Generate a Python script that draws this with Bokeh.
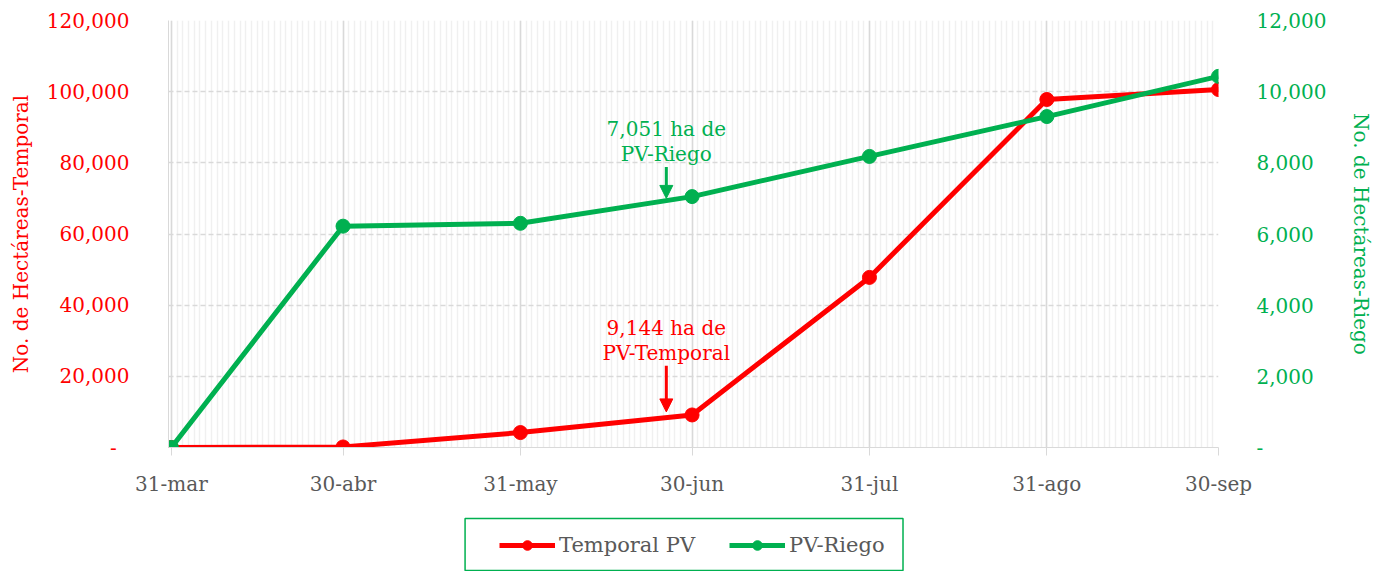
import pandas as pd
from bokeh.plotting import figure
from bokeh.layouts import column
from bokeh.models import (Range1d, LinearAxis, FixedTicker, NumeralTickFormatter, Legend,
                          LegendItem, Arrow, NormalHead, BoxAnnotation)
from bokeh.core.properties import value
from bokeh.embed import file_html
from bokeh.resources import INLINE

# ---------------- data ----------------
dates = ["2024-03-31", "2024-04-30", "2024-05-31", "2024-06-30", "2024-07-31", "2024-08-31", "2024-09-30"]
date_labels = ["31-mar", "30-abr", "31-may", "30-jun", "31-jul", "31-ago", "30-sep"]
temporal = [0, 150, 4200, 9144, 47800, 97800, 100600]
riego = [0, 6220, 6300, 7051, 8180, 9300, 10430]
left_ticks = [0, 20000, 40000, 60000, 80000, 100000, 120000]
right_ticks = [0, 2000, 4000, 6000, 8000, 10000, 12000]
series_names = ["Temporal PV", "PV-Riego"]

RED = "#ff0000"
GREEN = "#00b050"
GRAY_TXT = "#595959"
GRID = "#d9d9d9"
FONT = "DejaVu Serif"

ms = [int(t.value // 10**6) for t in pd.to_datetime(dates)]
day = 86400000
minor = list(range(ms[0], ms[-1] + 1, day))

FRAME_L, FRAME_W = 168, 1050

p = figure(frame_width=FRAME_W, frame_height=427, output_backend="svg",
           toolbar_location=None,
           x_range=Range1d(ms[0] - day * 0.5, ms[-1]),
           y_range=Range1d(0, 120000),
           min_border_left=FRAME_L, min_border_right=146, min_border_top=20, min_border_bottom=60)
p.extra_y_ranges = {"riego": Range1d(0, 12000)}
p.outline_line_color = None
p.background_fill_color = "white"

# x axis
xa = p.xaxis[0]
xa.ticker = FixedTicker(ticks=ms, minor_ticks=minor)
xa.major_label_overrides = {m: l for m, l in zip(ms, date_labels)}
xa.axis_line_color = GRID
xa.major_tick_line_color = GRID
xa.major_tick_out = 8
xa.major_tick_in = 0
xa.minor_tick_line_color = None
xa.major_label_text_color = GRAY_TXT
xa.major_label_text_font = FONT
xa.major_label_text_font_size = "20px"
xa.major_label_standoff = 16

# left y axis
ya = p.yaxis[0]
ya.ticker = FixedTicker(ticks=left_ticks)
ya.formatter = NumeralTickFormatter(format="0,0")
ya.major_label_overrides = {0: "-\u2007"}
ya.axis_line_color = GRID
ya.major_tick_line_color = None
ya.minor_tick_line_color = None
ya.major_label_text_color = RED
ya.major_label_text_font = FONT
ya.major_label_text_font_size = "20px"
ya.major_label_standoff = 33
ya.axis_label = "No. de Hectáreas-Temporal"
ya.axis_label_text_color = RED
ya.axis_label_text_font = FONT
ya.axis_label_text_font_size = "20px"
ya.axis_label_text_font_style = "normal"
ya.axis_label_standoff = 11

# right y axis
ra = LinearAxis(y_range_name="riego", ticker=FixedTicker(ticks=right_ticks),
                formatter=NumeralTickFormatter(format="0,0"))
ra.major_label_overrides = {0: "-"}
ra.axis_line_color = None
ra.major_tick_line_color = None
ra.minor_tick_line_color = None
ra.major_label_text_color = GREEN
ra.major_label_text_font = FONT
ra.major_label_text_font_size = "20px"
ra.major_label_standoff = 32
ra.axis_label = "No. de Hectáreas-Riego"
ra.axis_label_text_color = GREEN
ra.axis_label_text_font = FONT
ra.axis_label_text_font_size = "20px"
ra.axis_label_text_font_style = "normal"
ra.axis_label_standoff = 20
p.add_layout(ra, "right")

# grids
p.xgrid.grid_line_color = GRID
p.xgrid.grid_line_width = 1.5
p.xgrid.minor_grid_line_color = "#f0f0f0"
p.xgrid.minor_grid_line_width = 1.5
p.ygrid.ticker = FixedTicker(ticks=left_ticks)
p.ygrid.grid_line_color = GRID
p.ygrid.grid_line_dash = "5 3"
p.ygrid.grid_line_width = 1.5

# series
p.line(ms, temporal, line_color=RED, line_width=5)
p.scatter(ms, temporal, size=14, fill_color=RED, line_color=RED)
p.line(ms, riego, line_color=GREEN, line_width=5, y_range_name="riego")
p.scatter(ms, riego, size=14, fill_color=GREEN, line_color=GREEN, y_range_name="riego")

# annotations
ann_x = ms[3] - int(day * 4.5)
p.text(x=[ann_x], y=[7917], text=[f"{riego[3]:,} ha de\nPV-Riego"], text_align="center",
       text_baseline="bottom", text_font=value(FONT), text_font_size="20px",
       text_color=GREEN, y_range_name="riego", text_line_height=1.03)
p.add_layout(Arrow(end=NormalHead(size=13, fill_color=GREEN, line_color=GREEN),
                   x_start=ann_x, y_start=7880, x_end=ann_x, y_end=7000,
                   line_color=GREEN, line_width=3, y_range_name="riego"))
p.text(x=[ann_x], y=[23150], text=[f"{temporal[3]:,} ha de\nPV-Temporal"], text_align="center",
       text_baseline="bottom", text_font=value(FONT), text_font_size="20px",
       text_color=RED, text_line_height=1.03)
p.add_layout(Arrow(end=NormalHead(size=13, fill_color=RED, line_color=RED),
                   x_start=ann_x, y_start=23000, x_end=ann_x, y_end=10000,
                   line_color=RED, line_width=3))

# ---------------- legend strip (frame aligned with main frame) ----------------
LH = 64
q = figure(width=1364, height=LH, output_backend="svg", toolbar_location=None,
           x_range=Range1d(FRAME_L, FRAME_L + FRAME_W), y_range=Range1d(0, LH),
           x_axis_location=None, y_axis_location=None,
           min_border=0, min_border_top=0, min_border_bottom=0)
q.grid.visible = False
q.outline_line_color = None
# series drawn outside the visible range: only their legend glyphs show
lr1 = q.line(ms, temporal, line_color=RED, line_width=5)
sr1 = q.scatter(ms, temporal, size=14, fill_color=RED, line_color=RED)
lr2 = q.line(ms, riego, line_color=GREEN, line_width=5)
sr2 = q.scatter(ms, riego, size=14, fill_color=GREEN, line_color=GREEN)
q.add_layout(BoxAnnotation(left=468, right=911, bottom=1, top=53, fill_alpha=0,
                           line_color=GREEN, line_alpha=1.0, line_width=1.5))
legend = Legend(items=[LegendItem(label=series_names[0], renderers=[lr1, sr1]),
                       LegendItem(label=series_names[1], renderers=[lr2, sr2])],
                orientation="horizontal", location=(507 - 8 - FRAME_L, 14))
legend.border_line_color = None
legend.background_fill_alpha = 0
legend.label_text_color = GRAY_TXT
legend.label_text_font = FONT
legend.label_text_font_size = "21px"
legend.glyph_width = 56
legend.glyph_height = 24
legend.label_height = 24
legend.label_standoff = 4
legend.spacing = 34
legend.padding = 8
legend.margin = 0
q.add_layout(legend, "center")

layout = column(p, q, spacing=0)
open("out.html", "w").write(file_html(layout, INLINE))
